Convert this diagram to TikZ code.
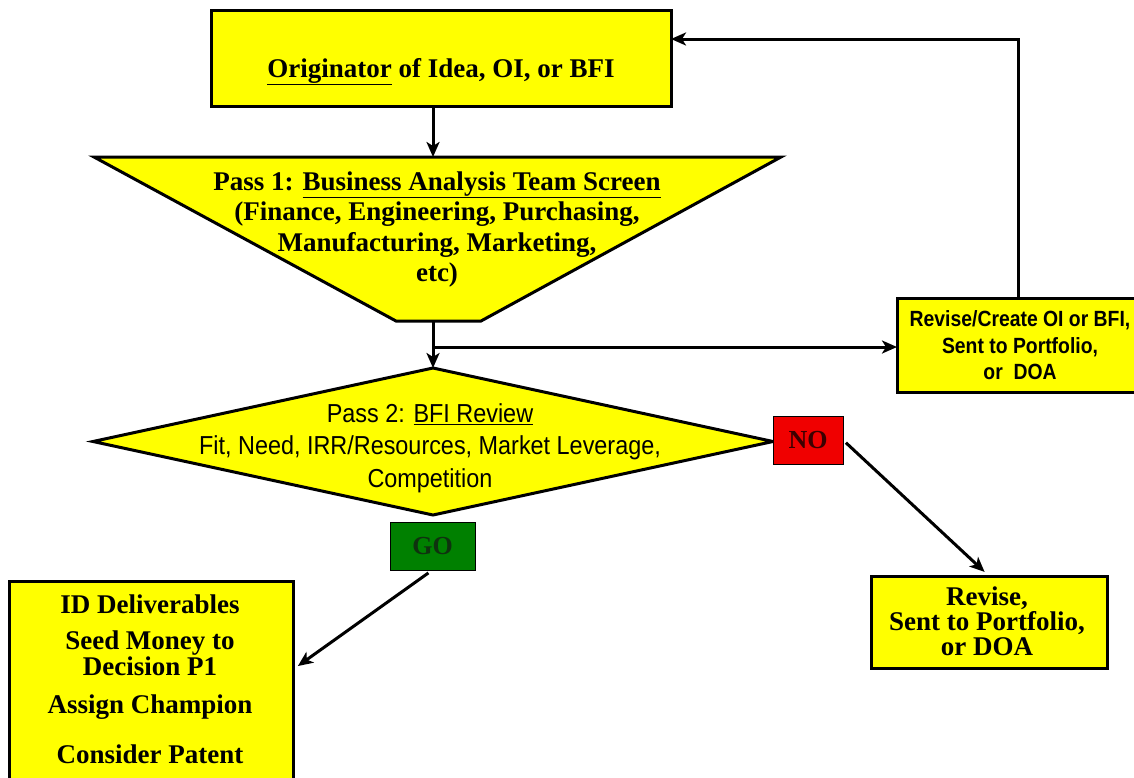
\documentclass[tikz,border=0pt]{standalone}
\usepackage{fontspec}
\setmainfont{Liberation Serif}
\newfontfamily\narrowsans[FakeStretch=0.9]{Liberation Sans}
\newfontfamily\narrowbold[FakeStretch=0.88]{Liberation Sans}
\usepackage{tikz}
\usetikzlibrary{shapes.geometric, arrows.meta}
\definecolor{boxyellow}{RGB}{255,255,0}
\definecolor{nored}{RGB}{240,0,0}
\definecolor{gogreen}{RGB}{0,128,0}
\definecolor{notext}{RGB}{60,0,0}
\definecolor{gotext}{RGB}{15,50,15}
\tikzset{
    flowbox/.style={draw=black, fill=boxyellow, line width=3pt, inner sep=0pt, outer sep=0pt},
    tagbox/.style={draw=black, line width=1pt, inner sep=0pt, outer sep=0pt, font=\fontsize{26}{30}\selectfont\bfseries},
    seriflabel/.style={align=center, inner sep=0pt, font=\fontsize{27}{30.5}\selectfont\bfseries},
    sanslabel/.style={align=center, inner sep=0pt, font=\narrowsans\fontsize{26}{32.5}\selectfont},
    flowarrow/.style={line width=3pt, -{Stealth[length=15pt, width=13pt, inset=4pt]}}
}

\begin{document}
\begin{tikzpicture}[x=1pt, y=-1pt]
    \useasboundingbox (0,0) rectangle (1134,777);

    % originator box
    \node[flowbox, minimum width=460, minimum height=96] (orig) at (441,58) {};
    \node[seriflabel, anchor=base] (origtxt) at (441,77) {\underline{Originator} of Idea, OI, or BFI};

    % pass 1 funnel
    \coordinate (p1top) at (433,157);
    \coordinate (p1bot) at (433,321);
    \coordinate (split) at (433,347);
    \draw[line width=3pt, fill=boxyellow] (94,157) -- (781,157) -- (481,321) -- (396,321) -- cycle;
    \node[seriflabel, anchor=north] (pass1) at (437,171.4)
        {Pass 1: \underline{Business Analysis Team Screen}\\(Finance, Engineering, Purchasing,\\Manufacturing, Marketing,\\etc)};

    % revise / create box (runs off the right edge)
    \node[flowbox, minimum width=243, minimum height=94] (rev1) at (1018.5,345) {};
    \node[align=center, inner sep=0pt, anchor=north, font=\narrowbold\bfseries\fontsize{22}{26.5}\selectfont] (rev1txt) at (1020,310.7)
        {Revise/Create OI or BFI,\\Sent to Portfolio,\\or\ \ DOA};
    \coordinate (back) at (1018.5,39);

    % pass 2 diamond
    \node[flowbox, diamond, minimum width=680, minimum height=147] (dia) at (433,441.5) {};
    \node[sanslabel, anchor=north] (pass2) at (430,403)
        {Pass 2: \underline{BFI Review}\\Fit, Need, IRR/Resources, Market Leverage,\\Competition};

    % decisions
    \node[tagbox, fill=nored, text=notext, minimum width=70, minimum height=48] (no) at (808,440) {NO};
    \node[tagbox, fill=gogreen, text=gotext, minimum width=85, minimum height=48] (go) at (432.5,546) {GO};

    % outcomes
    \node[flowbox, minimum width=236, minimum height=92] (rev2) at (989,622) {};
    \node[seriflabel, anchor=north, font=\fontsize{27}{25}\selectfont\bfseries] (rev2txt) at (987,586.4)
        {Revise,\\Sent to Portfolio,\\or DOA};
    \node[flowbox, minimum width=284, minimum height=209] (id) at (151,685.5) {};
    \node[seriflabel, anchor=north, font=\fontsize{27}{30}\selectfont\bfseries] (idtxt) at (150,594.4)
        {ID Deliverables\\[6pt]Seed Money to\\[-4pt]Decision P1\\[8pt]Assign Champion\\[20pt]Consider Patent};

    % connectors
    \draw[flowarrow] (orig.south -| p1top) -- (p1top);
    \draw[flowarrow] (p1bot) -- (dia.north);
    \draw[flowarrow] (split) -- (split -| rev1.west);
    \draw[flowarrow] (rev1.north) -- (back) -- (back -| orig.east);
    \draw[flowarrow, shorten <=4pt, shorten >=6pt] (no.east) -- (rev2.north);
    \draw[flowarrow, shorten <=5pt, shorten >=6pt] (go.south) -- ([yshift=16pt]id.east);
\end{tikzpicture}
\end{document}
